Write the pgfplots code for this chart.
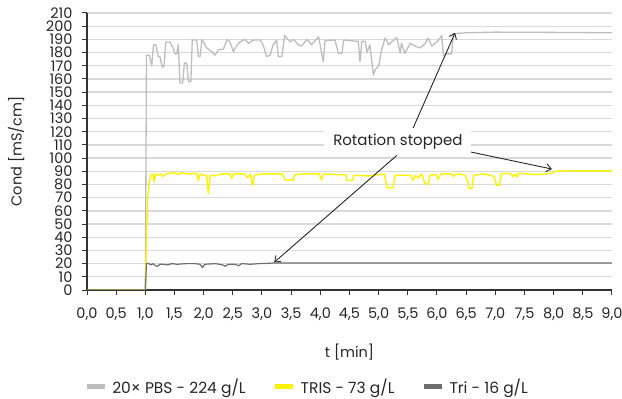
\documentclass[border=0pt]{standalone}
\usepackage{fontspec}
\setmainfont{Poppins}
\usepackage{pgfplots}
\pgfplotsset{compat=1.18}
\usetikzlibrary{arrows.meta}
\definecolor{pbs}{HTML}{BDBDBD}
\definecolor{tris}{HTML}{FFF200}
\definecolor{tri}{HTML}{6E6E70}
\definecolor{gridc}{HTML}{D9D9D9}
\begin{document}
\begin{tikzpicture}
\useasboundingbox (0,0) rectangle (622bp,399bp);
\begin{axis}[
  at={(87bp,109bp)}, anchor=south west,
  scale only axis, width=525bp, height=277bp,
  xmin=0, xmax=9, ymin=0, ymax=210,
  axis x line*=bottom, axis y line*=left,
  axis line style={black!80, line width=1.1bp},
  xtick={0,0.5,1,1.5,2,2.5,3,3.5,4,4.5,5,5.5,6,6.5,7,7.5,8,8.5,9},
  ytick={0,10,...,210},
  tick align=outside, major tick length=5bp,
  tick style={black!80, line width=1bp},
  ymajorgrids, grid style={gridc, line width=1.3bp},
  /pgf/number format/assume math mode=true,
  xticklabel style={/pgf/number format/.cd, fixed, fixed zerofill, precision=1, use comma, assume math mode=true, /tikz/.cd, yshift=-9bp},
  yticklabel style={/pgf/number format/.cd, fixed, precision=0, assume math mode=true, /tikz/.cd, xshift=-6bp},
  tick label style={font=\fontsize{14.5bp}{15bp}\selectfont, text=black!85},
  xlabel={t [min]}, ylabel={Cond [mS/cm]},
  label style={font=\fontsize{14.5bp}{16bp}\selectfont, text=black!85},
  xlabel style={at={(axis description cs:0.5,-0.2238)}, anchor=center},
  ylabel style={at={(axis description cs:-0.135,0.5)}, anchor=center},
  legend style={at={(axis description cs:0.422,-0.350)}, anchor=center, legend columns=3, draw=none, fill=none,
    font=\fontsize{15.5bp}{17bp}\selectfont, text=black!85,
    /tikz/every even column/.append style={column sep=22bp},
    nodes={inner xsep=5bp}},
  legend image code/.code={\draw[#1, line width=5bp] (0bp,0bp) -- (18bp,0bp);},
  every axis plot/.append style={line join=round},
]
\addplot[pbs, line width=1.3bp] coordinates {
(0,0)(1.00,0)(1.02,178)(1.07,178)(1.11,170)(1.14,186)(1.18,186)(1.22,177)(1.25,177)(1.29,169)(1.32,169)(1.35,188)(1.42,188)(1.48,183)(1.51,179)(1.54,179)(1.565,186)(1.594,157)(1.64,157)(1.67,172)(1.71,172)(1.74,158)(1.78,158)(1.805,189.5)(1.88,189.5)(1.91,177)(1.94,177)(1.97,190)(2.01,187)(2.05,183.5)(2.14,180.7)(2.19,178)(2.25,182)(2.34,182.6)(2.40,190)(2.45,188)(2.51,180.7)(2.57,185.7)(2.62,188)(2.71,190)(2.77,187)(2.85,189.5)(2.97,189.5)(3.02,185.7)(3.08,177)(3.14,178)(3.19,185.7)(3.25,189.5)(3.28,177)(3.34,177)(3.39,193)(3.48,188)(3.54,190)(3.62,186)(3.68,185)(3.77,190)(3.85,186)(3.91,189)(3.97,192)(4.05,173)(4.08,189)(4.25,189.5)(4.31,179.5)(4.37,179.5)(4.40,189.5)(4.65,188.5)(4.68,173)(4.71,188.5)(4.77,188.5)(4.80,180)(4.85,186)(4.91,163)(4.94,167)(5.00,170)(5.05,182)(5.11,191)(5.17,186)(5.25,189)(5.31,191.5)(5.37,179.5)(5.39,187)(5.45,179.5)(5.54,187)(5.62,185)(5.71,183.5)(5.80,187)(5.85,191)(5.91,185)(6.02,189)(6.08,193)(6.11,178)(6.17,179)(6.25,179)(6.28,194)(6.34,194.5)(6.5,195)(7.0,195.5)(8.0,195.3)(9.0,195)
};
\addlegendentry{20× PBS - 224 g/L}
\addplot[tris, line width=1.4bp] coordinates {
(0,0)(1.00,0)(1.02,40)(1.04,70)(1.07,83)(1.10,87)(1.13,88)(1.15,82)(1.18,88)(1.22,87)(1.26,88)(1.30,86)(1.35,88)(1.42,88.5)(1.50,89)(1.55,87.5)(1.62,89)(1.70,88)(1.78,88)(1.88,88.5)(1.91,83)(1.94,88)(2.00,87)(2.05,87)(2.08,73)(2.11,87)(2.20,86.5)(2.30,88)(2.45,88)(2.48,84.5)(2.51,88)(2.70,88)(2.75,85)(2.80,88)(2.84,79)(2.87,87)(3.00,88)(3.20,88)(3.35,88)(3.39,84)(3.45,83)(3.50,84)(3.53,83)(3.57,87.5)(3.70,88)(3.90,88)(3.98,88)(4.02,83.5)(4.06,88)(4.30,87.5)(4.44,87.5)(4.45,83)(4.55,83)(4.58,87)(4.85,86.5)(5.10,88)(5.14,77.5)(5.25,77.5)(5.28,87)(5.45,87)(5.55,87)(5.59,83)(5.63,87)(5.68,85)(5.74,88)(5.79,81)(5.85,80)(5.88,87)(5.98,87.5)(6.02,84)(6.07,88)(6.25,88)(6.28,86)(6.31,87.5)(6.40,88)(6.48,87)(6.53,82)(6.55,77)(6.60,77)(6.63,87)(6.80,88)(6.91,87)(6.98,86)(7.02,79.5)(7.07,79.5)(7.10,88)(7.25,88.5)(7.31,86)(7.34,88)(7.37,85.5)(7.40,88.5)(7.70,87.5)(7.85,88)(7.97,88.5)(8.02,90)(8.2,90.3)(9.0,90.3)
};
\addlegendentry{TRIS - 73 g/L}
\addplot[tri, line width=1.2bp] coordinates {
(0,0)(1.00,0)(1.02,20.2)(1.06,20)(1.10,19)(1.13,20)(1.17,18.5)(1.21,18)(1.25,19.5)(1.30,19.5)(1.38,19)(1.45,20)(1.55,19.5)(1.70,20)(1.85,20)(1.94,19.5)(1.98,17)(2.02,19.5)(2.20,20)(2.33,19)(2.37,18)(2.42,19.5)(2.55,19.5)(2.60,18.3)(2.65,20)(2.80,19.5)(2.95,20)(3.10,20.2)(3.20,20.5)(9.0,20.5)
};
\addlegendentry{Tri - 16 g/L}
\draw[black!85, line width=0.9bp, -{Straight Barb[length=5bp,width=8bp]}] (axis cs:5.59,122.8) -- (axis cs:6.31,195);
\draw[black!85, line width=0.9bp, -{Straight Barb[length=5bp,width=8bp]}] (axis cs:5.31,102) -- (axis cs:3.21,21);
\draw[black!85, line width=0.9bp, -{Straight Barb[length=5bp,width=8bp]}] (axis cs:6.58,104.6) -- (axis cs:7.97,91.7);
\node[fill=white, minimum width=147bp, minimum height=27bp, inner sep=0pt, font=\fontsize{15bp}{16bp}\selectfont, text=black!85] at (axis cs:5.33,112.6) {Rotation stopped};
\end{axis}
\end{tikzpicture}
\end{document}
